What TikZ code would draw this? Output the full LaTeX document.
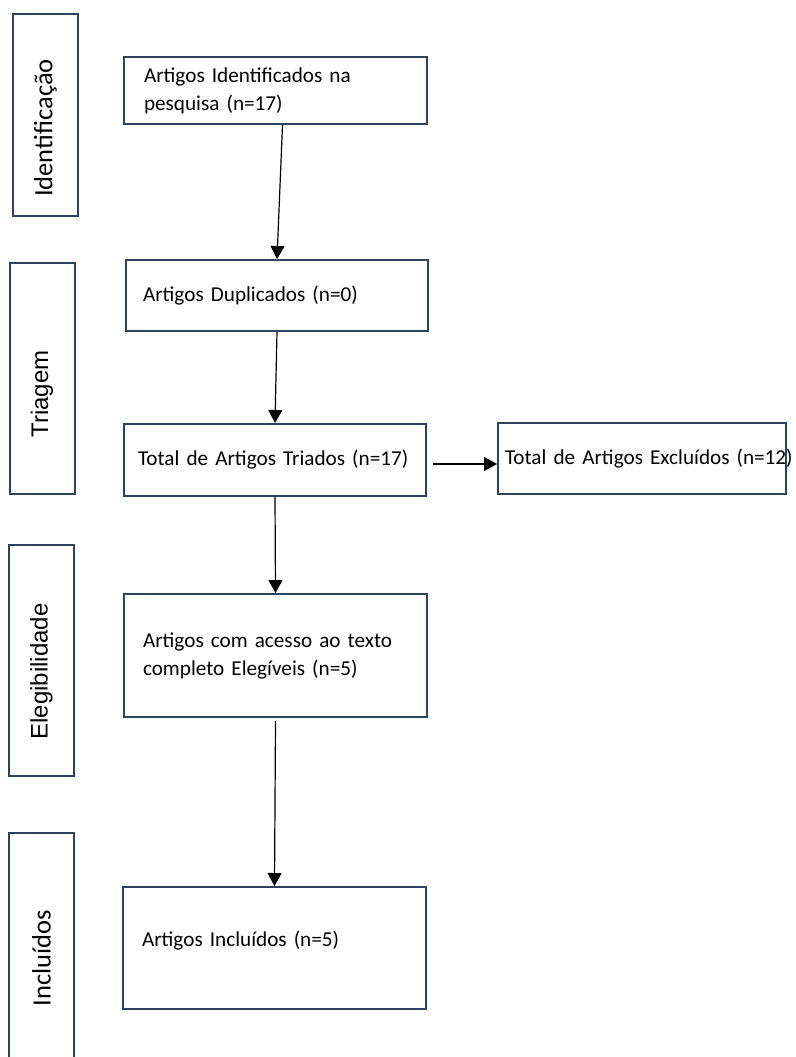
\documentclass[tikz,border=0pt]{standalone}
\usepackage{fontspec}
\setmainfont{Carlito}
\newfontfamily\arialfont{Liberation Sans}
\usetikzlibrary{arrows.meta,calc}
\definecolor{edgeblue}{RGB}{44,68,96}

\begin{document}
\begin{tikzpicture}[x=1pt,y=-1pt]
\tikzstyle{main}=[rectangle, draw=edgeblue, line width=2pt, align=left, inner ysep=0pt, font=\fontsize{21.2}{28}\selectfont]
\tikzstyle{stage}=[rectangle, draw=edgeblue, line width=2pt, minimum width=65pt]
\tikzstyle{stagetext}=[rotate=90, inner sep=0pt, font=\fontsize{26.5}{30}\selectfont]
\tikzstyle{stagetextb}=[stagetext, font=\arialfont\fontsize{24}{28}\selectfont]
\tikzstyle{connect}=[-{Triangle[length=13pt,width=14pt]}, line width=1.2pt]

  \useasboundingbox (0,0) rectangle (795,1057);

  % fases
  \node[stage, minimum height=202pt] (st1) at (45.5,115)   {};
  \node[stage, minimum height=231pt] (st2) at (42,378.5)   {};
  \node[stage, minimum height=231pt] (st3) at (41.5,660.5) {};
  \node[stage, minimum height=237pt] (st4) at (41.5,951.5) {};

  \node[stagetext]  (lb1) at (45.5,128)   {Identificação};
  \node[stagetextb] (lb2) at (42,394)     {Triagem};
  \node[stagetextb] (lb3) at (41.5,671.5) {Elegibilidade};
  \node[stagetext]  (lb4) at (41.5,958)   {Incluídos};

  % caixas
  \node[main, minimum height=67pt,  text width=263pt, inner xsep=20pt] (bx1) at (275.5,90.5)  {Artigos Identificados na\\pesquisa (n=17)};
  \node[main, minimum height=71pt,  text width=268pt, inner xsep=17pt] (bx2) at (277,295.5)   {Artigos Duplicados (n=0)};
  \node[main, minimum height=72pt,  text width=274pt, inner xsep=14pt] (bx3) at (275,460)     {Total de Artigos Triados (n=17)};
  \node[main, minimum height=71pt,  text width=274pt, inner xsep=7pt]  (bx6) at (642,458.5)   {\mbox{Total de Artigos Excluídos (n=12)}};
  \node[main, minimum height=123pt, text width=265pt, inner xsep=19pt] (bx4) at (275.5,655.5) {Artigos com acesso ao texto\\completo Elegíveis (n=5)};
  \node[main, minimum height=122pt, text width=265pt, inner xsep=19pt, text depth=19pt] (bx5) at (274.5,948) {Artigos Incluídos (n=5)};

  \path ([xshift=7pt]bx1.south) edge [connect] (bx2.north)
        (bx2.south) edge [connect] (bx3.north)
        ([xshift=6pt,yshift=-4pt]bx3.east) edge [connect] ([yshift=-4pt]bx3.east -| bx6.west)
        (bx3.south) edge [connect] (bx4.north)
        ([yshift=-3pt]bx4.south) edge [connect] (bx5.north);

\end{tikzpicture}
\end{document}
